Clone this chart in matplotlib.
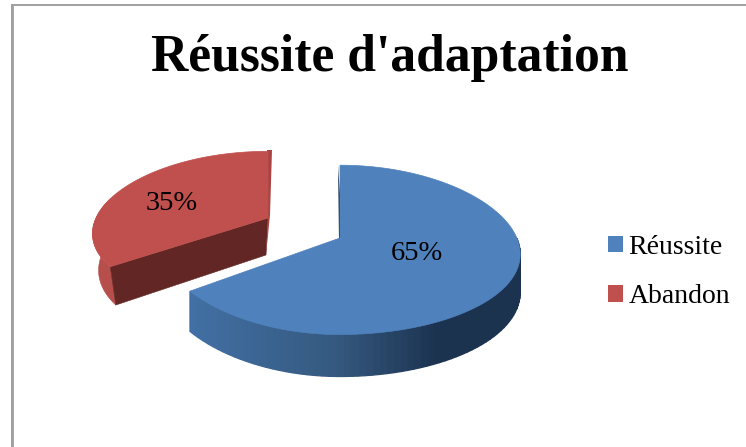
import numpy as np
import matplotlib
matplotlib.use("Agg")
import matplotlib.pyplot as plt
from matplotlib.colors import to_rgb
from matplotlib.patches import Patch, Polygon

plt.rcParams['font.family'] = ['Liberation Serif', 'DejaVu Serif']

# -------- Data ----------
title = "Réussite d'adaptation"
categories = ["Réussite", "Abandon"]
shares = [65, 35]
labels = ["65%", "35%"]
colors = ["#4f81bd", "#c0504d"]


def project(angle, cx, cy, rx, ry, kx=0.05, tilt=0.0, depth=0.0):
    # angle in degrees, clockwise from 12 o'clock, tilted with some perspective
    s, c = np.sin(np.radians(angle)), -np.cos(np.radians(angle))
    x = cx + rx * s / (1 - kx * c)
    y = cy + ry * c / (1 - 0.14 * c) + tilt * np.maximum(s, 0) ** 2
    return x, y + depth * (0.9 + 0.1 * np.maximum(c, 0))


def shade(col_a, col_b, t):
    a, b = np.array(to_rgb(col_a)), np.array(to_rgb(col_b))
    return tuple(a + (b - a) * t)


fig = plt.figure(figsize=(7.46, 4.47), dpi=100)
ax = fig.add_axes([0, 0, 1, 1])
ax.set_xlim(0, 746)
ax.set_ylim(447, 0)
ax.axis("off")

# chart frame
ax.plot([11.5, 11.5, 746], [447, 4.5, 4.5], color="#a0a0a0", lw=1.4)
ax.plot([11.5, 11.5], [447, 4.5], color="#a0a0a0", lw=2.0)

ax.text(390, 58, title, fontsize=37.2, fontweight="bold", ha="center", va="center")

angles = np.cumsum([0] + shares) * 3.6

# -------- Blue slice ----------
a0, a1 = angles[0], angles[1]
blue = dict(cx=340, cy=238, rx=180, ry=83, tilt=12)
blue_depth = 42
arc = np.linspace(a0, a1, 200)
px, py = project(arc, **blue)

# outer wall, only the front part shows
wall = np.linspace(90 - 8, a1, 70)
for i in range(len(wall) - 1):
    w = wall[i:i + 2]
    x1, y1 = project(w, **blue)
    x2, y2 = project(w[::-1], **blue, depth=blue_depth)
    t = (x1[0] - 189) / (522 - 189)
    if t < 0.45:
        col = shade("#4270a5", "#35597f", t / 0.45)
    else:
        col = shade("#35597f", "#1c3350", min((t - 0.45) / 0.3, 1))
    ax.add_patch(Polygon(np.c_[np.r_[x1, x2], np.r_[y1, y2]], fc=col, ec=col, lw=0.9))

# inner sliver next to 12 o'clock
ax.add_patch(Polygon([[338, 165], [343, 238], [339, 241]], fc="#1f3a5c", ec="none"))

ax.add_patch(Polygon(np.r_[[[blue["cx"], blue["cy"]]], np.c_[px, py]], fc=colors[0], ec=colors[0], lw=0.5))

# -------- Red slice (pulled out) ----------
a0, a1 = angles[1], angles[2]
red = dict(cx=268, cy=218, rx=172, ry=76, kx=0.2)
red_depth = 40
arc = np.linspace(a0, a1, 120)
px, py = project(arc, **red)

# outer wall on the left, lower rim a bit narrower
wall = np.linspace(a0, 285, 40)
x1, y1 = project(wall, **red)
low = {**red, "rx": 166}
x2, y2 = project(wall[::-1], **low, depth=red_depth)
ax.add_patch(Polygon(np.c_[np.r_[x1, x2], np.r_[y1, y2]], fc="#b64f4c", ec="#b64f4c", lw=0.4))

# cut face
ex, ey = project(a0, **red)
fx, fy = project(a0, **low, depth=red_depth)
ax.add_patch(Polygon([[ex, ey], [268, 218], [266, 255], [fx, fy]], fc="#622724", ec="#622724", lw=0.4))
ax.add_patch(Polygon([[267, 150], [272, 150], [270, 215], [266, 255], [268, 218]], fc="#a84543", ec="none"))
ax.add_patch(Polygon(np.r_[[[red["cx"], red["cy"]]], np.c_[px, py]], fc=colors[1], ec=colors[1], lw=0.5))

# -------- Labels and legend ----------
ax.text(417, 254, labels[0], fontsize=20.5, ha="center", va="center", color="black")
ax.text(172, 204, labels[1], fontsize=20.5, ha="center", va="center", color="black")

handles = [Patch(fc=c, ec="none", label=n) for c, n in zip(colors, categories)]
ax.legend(handles=handles, loc="upper left", bbox_to_anchor=(608 / 746, 1 - 235 / 447),
          bbox_transform=fig.transFigure, frameon=False, fontsize=20,
          handlelength=0.54, handleheight=0.54, handletextpad=0.2,
          labelspacing=0.88, borderpad=0, borderaxespad=0)

plt.savefig("out.png", dpi=100)
